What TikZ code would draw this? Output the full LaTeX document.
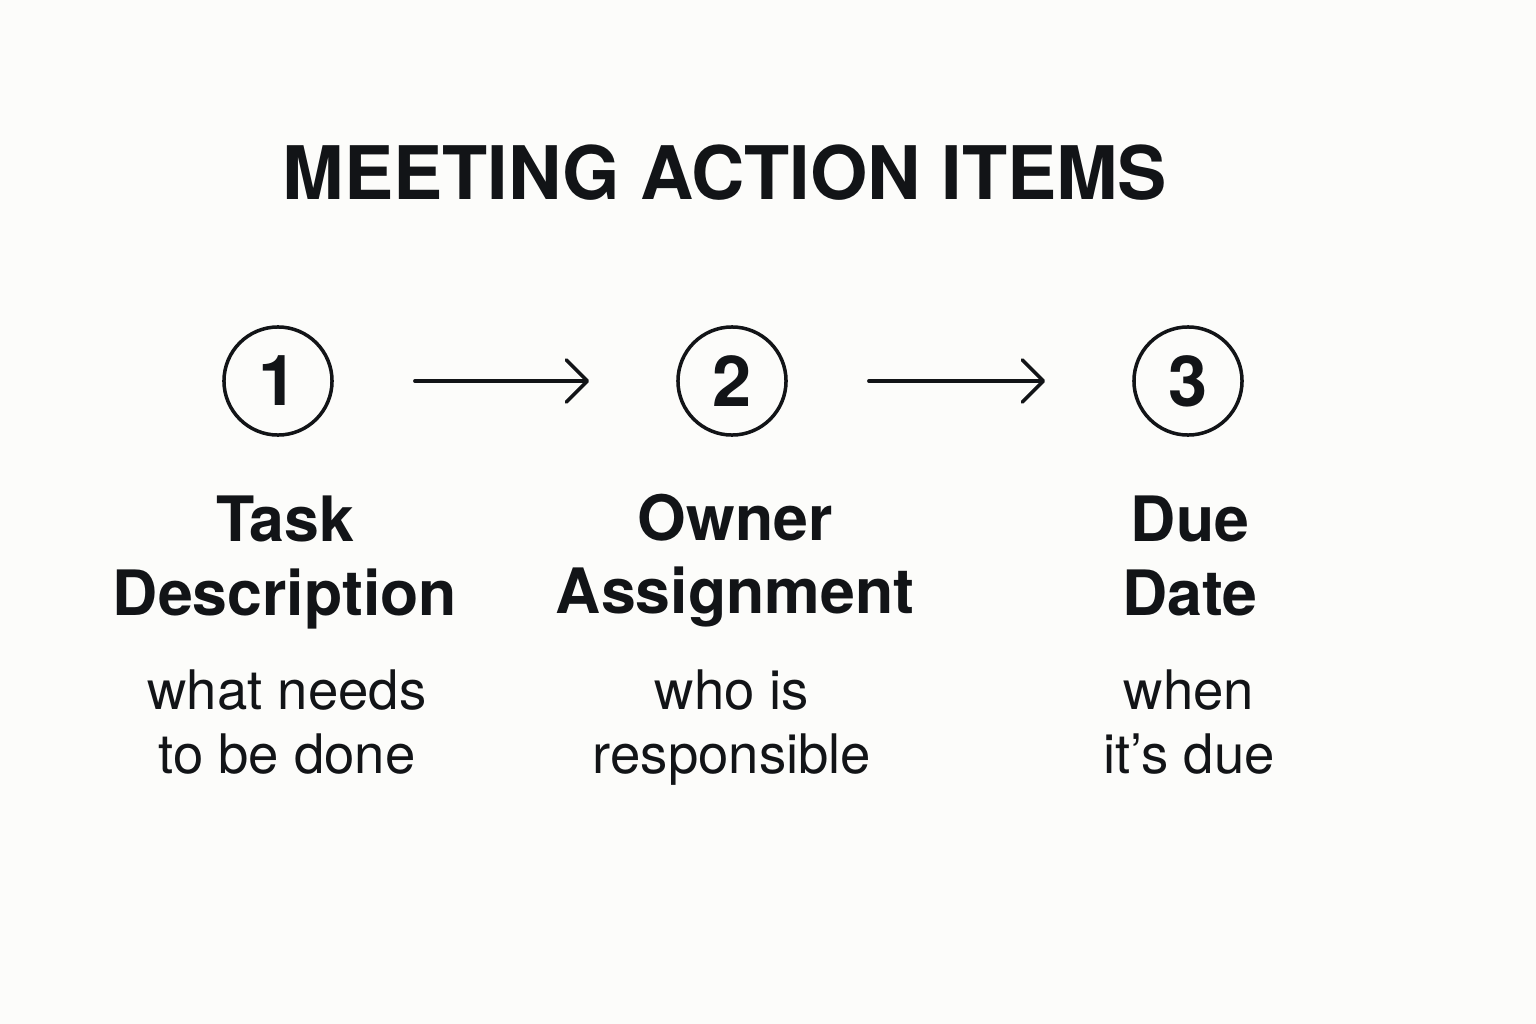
\documentclass[tikz,border=0pt]{standalone}
\usepackage{fontspec}
\setmainfont{TeX Gyre Heros}
\usetikzlibrary{arrows.meta}
\definecolor{ink}{HTML}{121417}
\definecolor{paper}{HTML}{FCFCFA}

\begin{document}
\begin{tikzpicture}[x=0.01cm,y=-0.01cm,
        numcircle/.style={draw=ink,line width=1pt,circle,minimum size=1.08cm,inner sep=0pt,text=ink,font=\bfseries\fontsize{20}{24}\selectfont},
        heading/.style={anchor=north,align=center,inner sep=0pt,text=ink,font=\bfseries\fontsize{17.8}{21}\selectfont},
        note/.style={anchor=north,align=center,inner sep=0pt,text=ink,font=\fontsize{15.5}{18.2}\selectfont},
        flow/.style={draw=ink,line width=1pt,line cap=round,-{Straight Barb[length=2.1mm,width=4.2mm,round]},shorten <=0.81cm,shorten >=0.87cm}]
        \fill[paper] (0,0) rectangle (1536,1024);
        \useasboundingbox (0,0) rectangle (1536,1024);
        \node[anchor=base,text=ink,font=\bfseries\fontsize{21}{25}\selectfont] (title) at (725,199) {MEETING ACTION ITEMS};
        \node[numcircle] (n1) at (278,381) {1};
        \node[numcircle] (n2) at (732,381) {2};
        \node[numcircle] (n3) at (1188,381) {3};
        \node[heading] (h1) at (285,495) {Task\\Description};
        \node[heading] (h2) at (735,493) {Owner\\Assignment};
        \node[heading] (h3) at (1190,495) {Due\\Date};
        \node[note] (d1) at (287,669) {what needs\\to be done};
        \node[note] (d2) at (732,669) {who is\\responsible};
        \node[note] (d3) at (1189,669) {when\\it’s due};
        \draw[flow] (n1) -- (n2);
        \draw[flow] (n2) -- (n3);
      \end{tikzpicture}
\end{document}
